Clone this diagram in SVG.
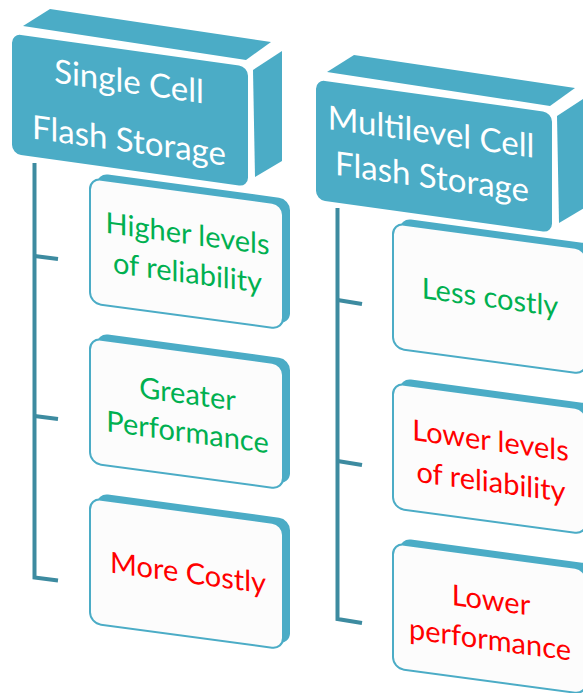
<svg xmlns="http://www.w3.org/2000/svg" width="583" height="693" viewBox="0 0 583 693">
  <style>
    .face { fill: #4BACC6; }
    .hdr-text { font-family: Lato, "Liberation Sans", sans-serif; font-size: 33px; fill: #FFFFFF; text-anchor: middle; }
    .box-back { fill: #4BACC6; }
    .box-front { fill: #FCFCFC; stroke: #4BACC6; stroke-width: 2; }
    .item { font-family: Lato, "Liberation Sans", sans-serif; font-size: 29px; text-anchor: middle; }
    .good { fill: #00B050; }
    .bad { fill: #FF0000; }
    .conn { fill: none; stroke: #3D8BA0; stroke-width: 4; stroke-linejoin: miter; }
  </style>
  <defs>
    <!-- header block: top face, side face and front face -->
    <g id="hdr-shape">
      <polygon class="face" points="23,26 50,9 271,42 246,60"/>
      <polygon class="face" points="253,70 282,51 282,161 255,177"/>
      <rect class="face" x="12" y="32" width="236" height="120" rx="9" transform="matrix(1 0.14 0 1 0 0)"/>
    </g>
    <!-- item card: thick back edge plus light front face -->
    <g id="card">
      <rect class="box-back" x="97" y="0" width="193" height="125" rx="11"/>
      <rect class="box-front" x="90" y="6" width="193" height="125" rx="11"/>
    </g>
  </defs>

  <!-- connectors -->
  <g id="connectors">
    <path class="conn" d="M34.5 163 V577.5 L58 580.5"/>
    <path class="conn" d="M34.5 256 L58 259"/>
    <path class="conn" d="M34.5 416 L58 419"/>
    <path class="conn" d="M337.5 208 V619 L362 623"/>
    <path class="conn" d="M337.5 300 L362 304"/>
    <path class="conn" d="M337.5 461 L362 465"/>
  </g>

  <!-- left column -->
  <g id="slc-header">
    <use href="#hdr-shape"/>
    <g transform="matrix(1 0.14 0 1 0 0)">
      <text class="hdr-text" x="129" y="75">Single Cell</text>
      <text class="hdr-text" x="129" y="134">Flash Storage</text>
    </g>
  </g>

  <g transform="matrix(1 0.135 0 1 0 0)">
    <g id="slc-reliability">
      <use href="#card" y="160"/>
      <text class="item good" x="187.5" y="218.6">Higher levels</text>
      <text class="item good" x="187.5" y="257.6">of reliability</text>
    </g>
    <g id="slc-performance">
      <use href="#card" y="320"/>
      <text class="item good" x="187.5" y="378.8">Greater</text>
      <text class="item good" x="187.5" y="417">Performance</text>
    </g>
    <g id="slc-cost">
      <use href="#card" y="480"/>
      <text class="item bad" x="188" y="557.6">More Costly</text>
    </g>
  </g>

  <!-- right column -->
  <g id="mlc-header" transform="translate(304 46)">
    <use href="#hdr-shape"/>
    <g transform="matrix(1 0.14 0 1 0 0)">
      <text class="hdr-text" x="127" y="79.6">Multilevel Cell</text>
      <text class="hdr-text" x="128" y="124.5">Flash Storage</text>
    </g>
  </g>

  <g transform="translate(303 45) matrix(1 0.135 0 1 0 0)">
    <g id="mlc-cost">
      <use href="#card" y="160"/>
      <text class="item good" x="187" y="237.2">Less costly</text>
    </g>
    <g id="mlc-reliability">
      <use href="#card" y="320"/>
      <text class="item bad" x="187.5" y="380.3">Lower levels</text>
      <text class="item bad" x="188" y="421.5">of reliability</text>
    </g>
    <g id="mlc-performance">
      <use href="#card" y="480"/>
      <text class="item bad" x="188" y="539.8">Lower</text>
      <text class="item bad" x="187" y="579.5">performance</text>
    </g>
  </g>
</svg>
